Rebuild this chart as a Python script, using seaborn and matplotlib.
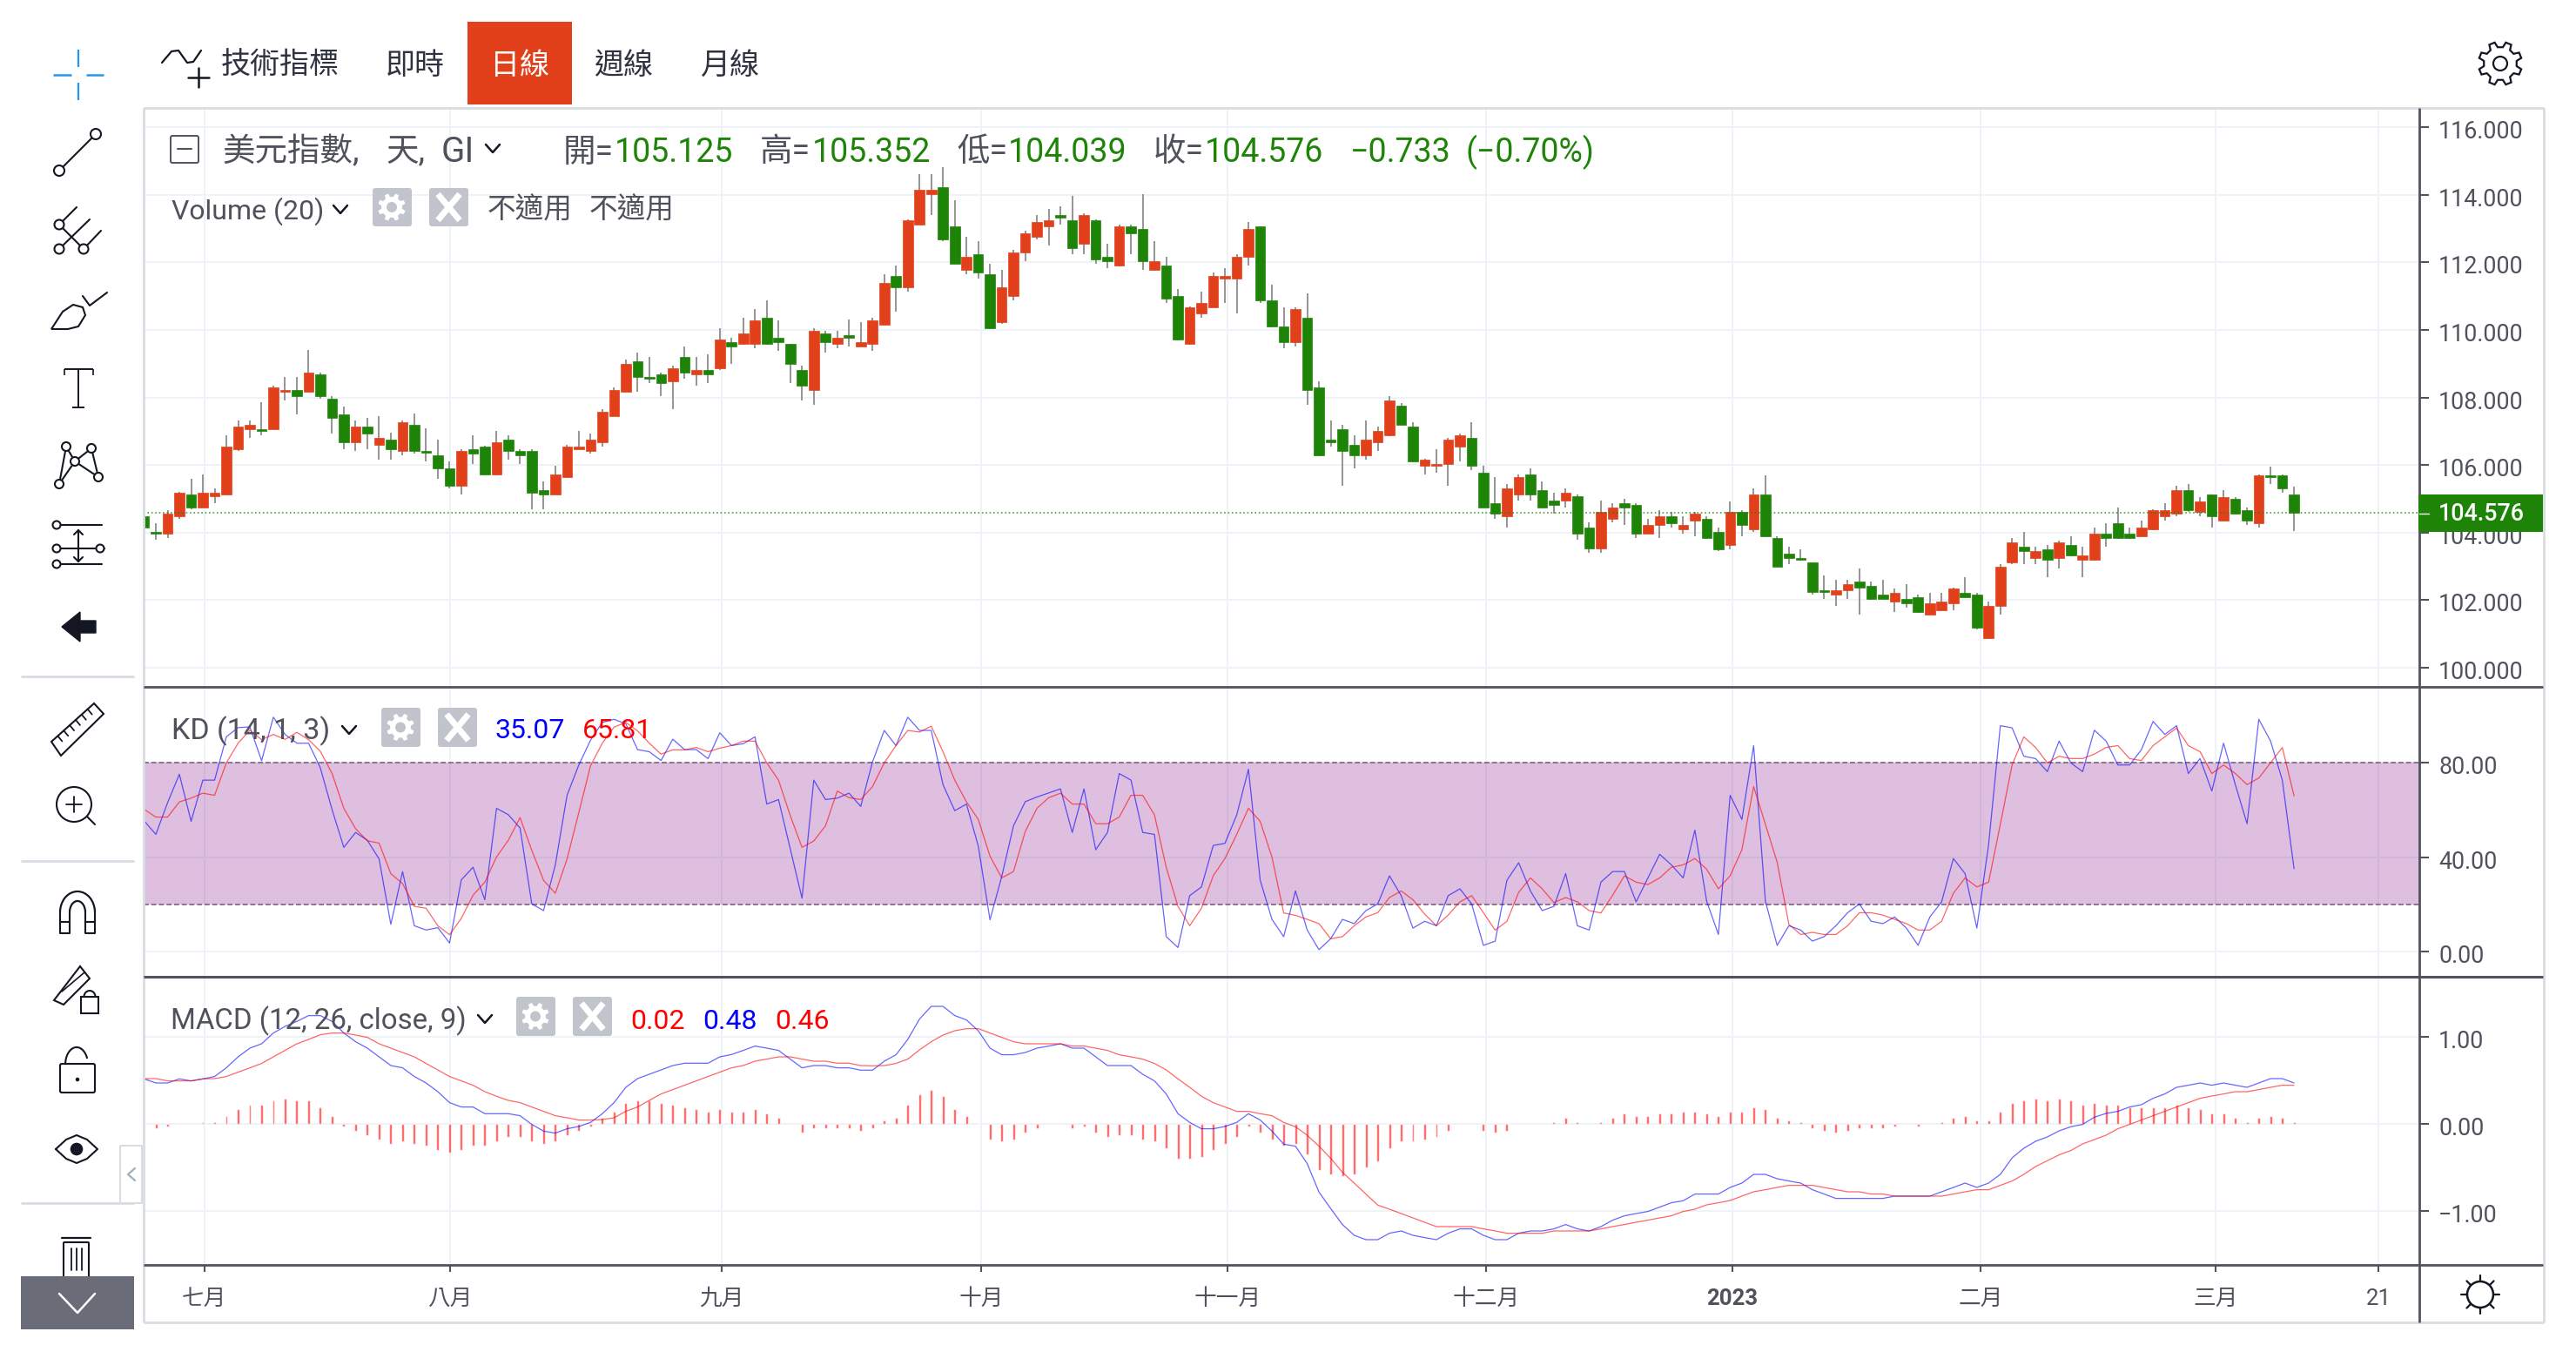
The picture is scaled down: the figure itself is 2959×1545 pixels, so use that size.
import numpy as np
import pandas as pd
import matplotlib
matplotlib.use("Agg")
import matplotlib.pyplot as plt
import seaborn as sns
from matplotlib.patches import Arc, Circle, FancyBboxPatch, Polygon, Rectangle

# daily candles, 184 sessions
opens = [104.48,104.02,103.97,104.48,105.13,104.74,105.07,105.13,106.48,107.07,
107.06,107.07,108.17,108.23,108.17,108.68,107.97,107.51,106.68,107.13,
106.61,106.74,106.42,107.20,106.42,106.28,105.91,105.38,106.48,106.54,
105.71,106.74,106.42,106.42,105.25,105.13,105.64,106.48,106.41,106.67,
107.45,108.17,109.07,108.61,108.68,108.48,109.20,108.68,108.81,108.87,
109.64,109.58,109.58,110.36,109.77,109.58,108.81,108.23,109.90,109.58,
109.84,109.52,109.58,110.16,111.59,111.26,113.13,114.03,114.23,113.06,
111.78,112.23,111.65,110.23,111.00,112.29,112.75,113.06,113.39,113.26,
112.56,113.26,112.16,111.90,113.06,113.00,111.77,111.90,111.00,109.58,
110.49,110.68,111.52,111.52,112.16,113.06,110.87,110.10,109.64,110.36,
108.29,106.74,107.07,106.61,106.28,106.67,106.87,107.77,107.13,105.97,
105.97,106.03,106.54,106.80,105.77,104.87,104.48,105.13,105.71,105.25,
104.94,104.94,105.07,104.16,103.54,104.42,104.87,104.81,103.97,104.22,
104.48,104.09,104.35,104.42,104.02,103.64,104.61,104.09,105.12,103.83,
103.38,103.26,103.12,102.29,102.16,102.29,102.54,102.42,102.16,101.97,
102.03,102.09,101.58,101.71,101.90,102.22,102.16,100.87,101.83,103.12,
103.57,103.26,103.51,103.26,103.63,103.19,103.19,103.96,104.28,103.96,
103.89,104.09,104.48,104.55,105.25,104.61,105.12,104.35,104.99,104.67,
104.29,105.70,105.70,105.125]
highs = [104.50,104.28,104.67,105.21,105.58,105.71,105.32,106.87,107.32,107.33,
107.85,108.36,108.62,108.62,109.40,108.74,108.04,107.72,107.33,107.40,
107.46,106.95,107.33,107.52,107.08,106.74,106.10,106.48,106.87,106.56,
107.00,106.87,106.48,106.48,105.51,105.97,106.61,107.00,106.94,107.66,
108.30,109.13,109.33,109.21,108.74,108.94,109.52,109.20,109.27,110.04,
109.78,110.36,110.61,110.87,110.29,109.59,108.94,110.04,109.97,109.97,
110.30,110.23,110.36,111.65,111.90,113.27,114.62,114.62,114.82,113.85,
112.75,112.62,111.97,111.77,112.36,112.93,113.39,113.58,113.65,113.97,
113.45,113.27,112.55,113.13,113.13,114.03,112.62,112.16,111.20,110.69,
111.13,111.71,111.84,112.23,113.19,113.07,111.33,110.68,110.68,111.07,
108.48,107.33,107.20,106.87,107.33,107.13,108.04,107.84,107.26,106.18,
106.48,106.80,106.93,107.26,105.97,105.64,105.45,105.71,105.91,105.51,
105.19,105.32,105.13,104.31,104.94,104.87,105.00,104.87,104.42,104.67,
104.61,104.48,104.61,104.48,104.15,104.93,104.67,105.32,105.70,103.89,
103.57,103.51,103.13,102.73,102.60,102.60,102.93,102.54,102.60,102.35,
102.48,102.16,102.22,102.22,102.36,102.67,102.22,101.96,103.06,103.83,
104.02,103.57,103.63,103.76,103.89,103.57,104.15,104.28,104.73,104.15,
104.35,104.68,104.86,105.38,105.45,105.05,105.13,105.25,105.05,104.73,
105.71,105.96,105.71,105.352]
lows = [104.10,103.79,103.84,104.41,104.68,104.73,104.87,105.12,106.41,106.80,
106.87,107.06,107.90,107.51,108.16,107.97,106.93,106.48,106.41,106.48,
106.16,106.16,106.28,106.35,106.10,105.58,105.32,105.13,106.03,105.70,
105.70,106.16,106.03,104.68,104.68,105.12,105.63,106.47,106.35,106.54,
107.44,108.16,108.17,108.42,108.04,107.65,108.55,108.36,108.42,108.81,
109.00,109.57,109.45,109.57,109.39,108.42,107.91,107.78,109.33,109.45,
109.52,109.51,109.39,110.15,110.55,111.13,113.12,113.39,112.62,111.96,
111.65,111.53,110.03,110.17,110.87,112.03,112.69,112.49,113.13,112.23,
112.23,111.97,111.84,111.89,112.23,111.77,111.76,110.81,109.70,109.57,
110.36,110.67,110.81,110.49,111.90,110.81,110.09,109.45,109.52,107.78,
106.27,106.54,105.38,105.90,106.16,106.41,106.86,107.19,106.09,105.71,
105.77,105.38,106.10,105.84,104.73,104.42,104.16,104.94,104.94,104.73,
104.55,104.74,103.79,103.41,103.41,104.31,104.22,103.84,103.96,103.83,
104.16,103.96,103.89,103.82,103.45,103.51,103.89,104.03,103.88,102.99,
103.06,103.18,102.16,102.03,101.84,102.03,101.58,102.02,102.02,101.64,
101.77,101.63,101.57,101.70,101.71,102.08,101.13,100.86,101.58,103.06,
103.06,103.06,102.67,102.93,103.31,102.67,103.18,103.57,103.82,103.82,
103.88,104.08,104.35,104.48,104.61,104.48,104.16,104.34,104.54,104.22,
104.16,105.45,105.19,104.039]
closes = [104.15,103.98,104.55,105.19,104.74,105.19,105.19,106.54,107.13,107.20,
107.00,108.29,108.23,108.04,108.74,108.04,107.39,106.68,107.13,106.94,
106.81,106.48,107.26,106.42,106.36,105.91,105.38,106.42,106.35,105.71,
106.68,106.42,106.29,105.19,105.13,105.71,106.54,106.54,106.74,107.57,
108.23,109.00,108.62,108.55,108.42,108.87,108.74,108.81,108.68,109.71,
109.52,109.90,110.29,109.58,109.64,109.00,108.36,109.97,109.64,109.77,
109.77,109.64,110.29,111.39,111.26,113.26,114.16,114.16,112.69,111.97,
112.16,111.71,110.04,111.26,112.29,112.87,113.19,113.26,113.32,112.43,
113.39,112.10,112.03,113.06,112.87,112.03,112.03,110.94,109.71,110.68,
110.81,111.59,111.59,112.16,113.00,110.87,110.10,109.64,110.61,108.23,
106.28,106.68,106.42,106.28,106.74,107.00,107.90,107.20,106.10,106.17,
106.03,106.74,106.87,105.97,104.74,104.55,105.32,105.64,105.13,104.74,
104.81,105.19,103.97,103.54,104.61,104.74,104.74,103.97,104.22,104.48,
104.29,104.22,104.55,103.83,103.51,104.61,104.22,105.12,103.89,103.00,
103.26,103.19,102.23,102.23,102.29,102.48,102.36,102.03,102.03,102.22,
101.90,101.64,101.90,101.96,102.35,102.09,101.19,101.83,103.00,103.70,
103.45,103.45,103.19,103.70,103.32,103.32,103.96,103.83,103.83,103.83,
104.15,104.67,104.67,105.25,104.67,104.92,104.48,105.05,104.55,104.35,
105.70,105.65,105.32,104.576]

# KD panel
k_line = [55.3,49.6,63.0,75.0,55.1,72.5,72.5,90.8,94.7,95.0,
80.7,99.1,91.8,88.1,88.1,77.7,60.0,44.1,50.4,47.1,
39.2,11.6,33.9,11.0,9.2,10.2,3.7,30.4,35.7,22.0,
60.6,57.9,52.3,20.2,17.4,36.7,66.1,78.9,89.4,96.9,
98.2,96.3,85.4,84.5,80.8,89.8,85.4,85.4,81.6,92.5,
87.1,87.9,90.8,62.4,64.3,43.5,22.6,72.5,64.3,64.9,
67.0,61.4,80.2,93.5,87.1,99.1,93.5,93.5,70.6,59.6,
62.4,44.7,13.5,31.8,53.2,63.4,65.4,67.1,68.8,50.4,
68.8,43.1,50.4,75.3,72.5,50.4,49.6,6.4,1.8,23.7,
27.4,44.9,45.8,57.8,77.1,30.2,13.7,6.4,25.7,9.2,
0.9,5.5,13.7,11.9,17.4,20.2,32.1,23.7,10.0,12.9,
11.0,23.7,26.6,20.2,2.7,4.5,30.2,37.6,25.7,17.4,
19.2,33.0,11.0,9.2,29.4,33.9,33.9,21.1,31.2,41.2,
36.7,31.2,51.4,21.4,7.3,66.1,55.9,87.1,21.4,2.7,
11.0,9.2,4.5,6.4,11.0,16.5,20.2,12.9,11.9,14.7,
10.0,2.7,14.7,21.1,39.4,33.0,10.0,45.3,95.5,94.6,
82.6,81.6,76.1,89.0,79.8,76.1,93.6,89.0,78.9,78.9,
85.3,97.3,91.8,95.5,75.3,81.6,67.9,88.1,70.6,54.1,
98.2,89.0,72.5,35.07]
d_line = [60.2,56.9,56.9,63.3,64.9,67.0,66.1,79.8,88.1,93.6,
89.6,91.8,89.7,92.7,89.6,84.7,75.3,60.6,52.0,46.9,
45.9,33.0,28.8,19.2,18.4,11.0,7.2,14.1,23.9,29.4,
40.1,47.1,56.7,42.8,30.2,24.7,39.2,58.8,78.6,88.1,
94.9,96.9,93.3,88.1,83.5,85.3,85.3,86.3,84.5,86.0,
87.1,89.0,89.0,79.8,72.5,57.5,44.1,46.8,53.2,67.9,
65.1,64.3,69.8,79.8,87.1,93.5,92.8,95.3,84.5,72.5,
63.3,55.9,40.4,31.2,33.9,50.8,60.6,65.1,67.0,62.4,
62.4,54.1,54.1,56.9,66.1,66.1,57.8,35.7,19.2,11.0,
18.4,32.1,39.4,49.6,60.6,55.1,40.0,16.4,15.4,13.7,
11.9,5.5,6.4,11.0,14.7,16.5,22.9,25.7,22.0,15.9,
11.0,15.5,21.1,23.7,16.5,9.1,12.9,25.1,31.2,26.6,
20.8,22.9,21.1,17.4,16.4,23.9,32.1,29.4,28.4,31.2,
35.7,36.7,39.4,34.9,26.6,32.1,43.1,69.8,53.9,37.9,
11.6,7.3,8.2,7.3,7.3,11.0,16.5,16.5,15.5,13.7,
11.9,9.2,9.2,12.9,24.7,31.2,27.4,29.4,53.9,78.9,
90.8,86.3,79.8,82.6,81.6,81.6,83.5,86.3,87.1,81.6,
80.8,87.1,90.8,94.5,87.1,84.5,75.3,78.9,75.3,70.6,
73.4,79.8,86.3,65.81]

# MACD panel
macd_line = [.52,.473,.473,.52,.497,.52,.547,.647,.773,.873,
.923,1.047,1.123,1.18,1.247,1.247,1.18,1.047,.947,.873,
.773,.673,.647,.547,.473,.373,.247,.197,.197,.12,
.12,.12,.097,-.003,-.08,-.103,-.053,-.027,.02,.12,
.247,.423,.523,.573,.623,.673,.70,.70,.70,.773,
.80,.847,.897,.873,.847,.747,.647,.673,.673,.647,
.647,.62,.62,.723,.797,.973,1.207,1.353,1.353,1.247,
1.197,1.073,.873,.797,.797,.823,.873,.897,.923,.873,
.873,.773,.673,.673,.673,.573,.497,.347,.12,.02,
-.053,-.053,-.027,.02,.12,.047,-.08,-.23,-.253,-.453,
-.78,-.97,-1.153,-1.277,-1.327,-1.327,-1.253,-1.227,-1.277,-1.303,
-1.327,-1.253,-1.203,-1.203,-1.277,-1.327,-1.327,-1.253,-1.227,-1.227,
-1.203,-1.153,-1.203,-1.227,-1.177,-1.103,-1.053,-1.027,-1.003,-.953,
-.903,-.88,-.803,-.803,-.803,-.727,-.677,-.577,-.577,-.627,
-.653,-.677,-.753,-.803,-.853,-.853,-.853,-.853,-.853,-.827,
-.827,-.827,-.827,-.777,-.727,-.677,-.727,-.677,-.577,-.387,
-.277,-.197,-.147,-.077,-.03,-.003,.08,.123,.147,.197,
.223,.297,.347,.423,.447,.473,.447,.473,.447,.423,
.473,.523,.523,.473]
signal_line = [.523,.523,.497,.497,.497,.52,.523,.547,.597,.647,
.697,.773,.847,.923,.973,1.027,1.047,1.047,1.023,.997,
.923,.873,.823,.773,.697,.623,.547,.497,.447,.373,
.32,.273,.247,.197,.147,.097,.073,.047,.047,.053,
.073,.147,.197,.273,.347,.397,.447,.497,.547,.597,
.647,.673,.723,.747,.773,.773,.747,.723,.723,.70,
.70,.673,.67,.673,.697,.747,.853,.947,1.023,1.073,
1.097,1.097,1.047,.997,.947,.923,.923,.923,.923,.897,
.897,.873,.847,.797,.773,.747,.697,.623,.52,.423,
.32,.247,.197,.147,.147,.12,.097,.02,-.03,-.127,
-.253,-.393,-.553,-.677,-.803,-.93,-.977,-1.027,-1.077,-1.127,
-1.177,-1.177,-1.177,-1.177,-1.203,-1.227,-1.253,-1.253,-1.253,-1.253,
-1.227,-1.227,-1.227,-1.227,-1.203,-1.177,-1.153,-1.127,-1.103,-1.077,
-1.053,-1.003,-.977,-.927,-.903,-.877,-.827,-.777,-.753,-.727,
-.703,-.703,-.703,-.727,-.753,-.777,-.777,-.803,-.803,-.827,
-.827,-.827,-.827,-.827,-.803,-.777,-.753,-.753,-.703,-.653,
-.577,-.487,-.42,-.353,-.303,-.227,-.177,-.127,-.053,-.003,
.047,.097,.147,.197,.247,.297,.323,.347,.373,.373,
.397,.423,.447,.447]
hist_bars = [0,-.05,-.027,0,0,.023,.023,.097,.173,.223,
.223,.273,.297,.273,.273,.197,.097,-.027,-.077,-.127,
-.177,-.227,-.2,-.227,-.25,-.30,-.327,-.30,-.25,-.25,
-.20,-.15,-.15,-.2,-.227,-.2,-.127,-.077,-.027,.073,
.147,.247,.273,.273,.247,.223,.197,.173,.147,.173,
.147,.147,.173,.123,.073,0,-.10,-.05,-.05,-.05,
-.05,-.077,-.05,.047,.073,.223,.347,.397,.323,.173,
.097,0,-.177,-.2,-.177,-.1,-.05,0,0,-.05,
-.027,-.1,-.15,-.127,-.127,-.177,-.2,-.277,-.40,-.40,
-.377,-.30,-.227,-.15,-.027,-.1,-.177,-.25,-.227,-.35,
-.527,-.577,-.60,-.577,-.50,-.427,-.277,-.2,-.2,-.177,
-.15,-.077,0,0,-.077,-.1,-.077,0,0,0,
.023,.073,.023,0,.023,.073,.123,.097,.097,.123,
.123,.147,.147,.123,.097,.147,.147,.197,.173,.073,
.047,.023,-.05,-.077,-.1,-.077,-.05,-.05,-.05,-.027,
0,-.027,0,.023,.073,.097,.047,.047,.147,.247,
.273,.297,.273,.297,.273,.223,.247,.223,.223,.197,
.197,.197,.197,.223,.197,.173,.123,.123,.073,.023,
.073,.097,.073,.023]

month_ticks = [5.12,26.05,49.17,71.25,92.2,114.2,135.2,156.3,176.3,190.2]
month_labels = ["七月","八月","九月","十月","十一月","十二月","2023","二月","三月","21"]
price_ticks = [100,102,104,106,108,110,112,114,116]
kd_ticks = [0,40,80]
macd_ticks = [-1,0,1]
macd_tick_labels = ["−1.00","0.00","1.00"]

W, H = 2959, 1545
RED = "#e2401a"
GREEN = "#1e8407"
AXIS = "#50535e"
TEXT = "#4f525c"
GRID = "#edf3f8"
ICON = "#131722"
BTN = "#c1c4cd"

sns.set_theme(style="white")
plt.rcParams["font.family"] = ["Roboto", "Noto Sans CJK TC", "DejaVu Sans"]

df = pd.DataFrame({"i": np.arange(len(closes)), "o": opens, "h": highs, "l": lows, "c": closes,
                   "k": k_line, "d": d_line, "macd": macd_line, "signal": signal_line, "hist": hist_bars})

fig = plt.figure(figsize=(W / 100, H / 100), dpi=100, facecolor="white")


def pane(top, bottom):
    return fig.add_axes([165 / W, 1 - bottom / H, (2779 - 165) / W, (bottom - top) / H])


ax_price = pane(124, 789)
ax_kd = pane(789, 1122)
ax_macd = pane(1122, 1453)

# candles
up = df[df.c >= df.o]
down = df[df.c < df.o]
ax_price.vlines(df.i, df.l, df.h, color="#8c8c8c", lw=1.3, zorder=2)
ax_price.bar(up.i, up.c - up.o, bottom=up.o, width=0.86, color=RED, edgecolor=RED, lw=0.5, zorder=3)
ax_price.bar(down.i, down.c - down.o, bottom=down.o, width=0.86, color=GREEN, edgecolor=GREEN, lw=0.5, zorder=3)
ax_price.axhline(closes[-1], color=GREEN, ls=":", lw=1.2, alpha=0.8, zorder=4)
ax_price.set_ylim(99.433, 116.572)
ax_price.set_yticks(price_ticks, [f"{t:.3f}" for t in price_ticks])

# KD
ax_kd.axhspan(20, 80, facecolor="#800080", alpha=0.25, lw=0, zorder=2)
for level in (20, 80):
    ax_kd.axhline(level, color="#8b7390", ls=(0, (3, 1.5)), lw=1.4, zorder=2)
sns.lineplot(data=df, x="i", y="k", color="#0000ff", lw=0.9, alpha=0.6, errorbar=None, ax=ax_kd, zorder=3)
sns.lineplot(data=df, x="i", y="d", color="#ff0000", lw=0.9, alpha=0.6, errorbar=None, ax=ax_kd, zorder=3)
ax_kd.set_ylim(-10.55, 111.9)
ax_kd.set_yticks(kd_ticks, [f"{t:.2f}" for t in kd_ticks])

# MACD
sns.barplot(data=df, x="i", y="hist", native_scale=True, width=0.22, color="#ff0000", alpha=0.65,
            saturation=1, errorbar=None, ax=ax_macd, zorder=3)
sns.lineplot(data=df, x="i", y="macd", color="#0000ff", lw=0.9, alpha=0.6, errorbar=None, ax=ax_macd, zorder=4)
sns.lineplot(data=df, x="i", y="signal", color="#ff0000", lw=0.9, alpha=0.6, errorbar=None, ax=ax_macd, zorder=4)
ax_macd.set_ylim(-1.617, 1.693)
ax_macd.set_yticks(macd_ticks, macd_tick_labels)

for ax in (ax_price, ax_kd, ax_macd):
    ax.set_xlim(-0.04, 193.66)
    ax.set_xlabel("")
    ax.set_ylabel("")
    ax.set_xticks(month_ticks)
    ax.set_axisbelow(True)
    ax.grid(True, color=GRID, lw=1.4)
    for side in ("top", "left", "bottom", "right"):
        ax.spines[side].set_visible(False)
    ax.yaxis.tick_right()
    ax.tick_params(axis="y", right=True, length=8, width=1.5, color=AXIS, pad=8, labelsize=19.4, labelcolor=TEXT)
    ax.tick_params(axis="x", bottom=False, labelbottom=False)
    ax.patch.set_alpha(0)
    for tl in ax.get_yticklabels():
        tl.set_y(tl.get_position()[1])
        tl.set_transform(tl.get_transform() + matplotlib.transforms.ScaledTranslation(0, -2.5 / 100, fig.dpi_scale_trans))

ax_macd.set_xticks(month_ticks, month_labels)
ax_macd.tick_params(axis="x", bottom=True, labelbottom=True, length=6, width=1.5, color=AXIS, pad=13.5,
                    labelsize=18.5, labelcolor=TEXT)
ax_macd.get_xticklabels()[6].set_fontweight("bold")

# page furniture in pixel space
ov = fig.add_axes([0, 0, 1, 1], zorder=10)
ov.set_xlim(0, W)
ov.set_ylim(H, 0)
ov.axis("off")
ov.patch.set_alpha(0)


def label(x, y, s, size=23, color=TEXT, ha="left", **kw):
    ov.text(x, y, s, fontsize=size, color=color, ha=ha, va="center", **kw)


def seg(xs, ys, color=ICON, lw=1.5, **kw):
    ov.plot(xs, ys, color=color, lw=lw, solid_capstyle=kw.pop("cap", "round"), **kw)


def ring(x, y, r, lw=1.5, color=ICON, face="white", z=5):
    ov.add_patch(Circle((x, y), r, fill=True, facecolor=face, edgecolor=color, lw=lw, zorder=z))


def gear(cx, cy, r1, r2, edge, face, lw=1.5, teeth=8):
    ang, rad = [], []
    step = 2 * np.pi / teeth
    for t in range(teeth):
        a = t * step + step / 2
        ang += [a - step * 0.3, a - step * 0.17, a + step * 0.17, a + step * 0.3]
        rad += [r2, r1, r1, r2]
    pts = np.c_[cx + np.array(rad) * np.cos(ang), cy + np.array(rad) * np.sin(ang)]
    ov.add_patch(Polygon(pts, closed=True, facecolor=face, edgecolor=edge, lw=lw, zorder=6, joinstyle="miter"))


def buttons(gx, xx, top, bottom):
    for x0 in (gx, xx):
        ov.add_patch(FancyBboxPatch((x0 + 3, top + 3), 39, bottom - top - 6, boxstyle="round,pad=3",
                                    facecolor=BTN, edgecolor="none", zorder=5))
    cy = (top + bottom) / 2
    gear(gx + 22, cy, 16, 12, "none", "white", lw=0)
    ov.add_patch(Circle((gx + 22, cy), 6, facecolor=BTN, edgecolor="none", zorder=7))
    seg([xx + 10, xx + 35], [cy - 15, cy + 15], color="white", lw=5, zorder=6, cap="butt")
    seg([xx + 35, xx + 10], [cy - 15, cy + 15], color="white", lw=5, zorder=6, cap="butt")


def chevron(x, y):
    seg([x - 8, x, x + 8], [y - 4, y + 5, y - 4], lw=1.8)


# frame and pane separators
for x0, y0, x1, y1, c, w in [(165, 124, 2922, 124, "#d8dde1", 2), (165, 124, 165, 1519, "#d8dde1", 2),
                             (2922, 124, 2922, 1519, "#d8dde1", 2), (165, 1519, 2922, 1519, "#d8dde1", 2),
                             (165, 789, 2921, 789, AXIS, 2), (165, 1122, 2921, 1122, AXIS, 2.2),
                             (165, 1453, 2921, 1453, AXIS, 2), (2779, 124, 2779, 1519, AXIS, 2)]:
    seg([x0, x1], [y0, y1], color=c, lw=w, cap="butt")

# last price tag over the axis
ov.add_patch(Rectangle((2778, 568), 143, 43, facecolor=GREEN, edgecolor="none", zorder=5))
seg([2779, 2790], [590, 590], color="white", lw=1, zorder=6)
ov.text(2801, 591, "104.576", fontsize=19.4, color="white", va="center", fontweight="medium", zorder=6)

# top bar
ov.add_patch(Rectangle((537, 25), 120, 95, facecolor=RED, edgecolor="none"))
label(322, 76, "技術指標", 24.5, "#2f3240", "center")
label(477, 76, "即時", 24.5, "#2f3240", "center")
label(597, 76, "日線", 24.5, "white", "center")
label(716, 76, "週線", 24.5, "#2f3240", "center")
label(838, 76, "月線", 24.5, "#2f3240", "center")
seg([186, 197, 205, 215, 222, 231], [72, 59, 58, 72, 71, 58], lw=1.6)
seg([228, 228], [78, 100], lw=1.8)
seg([216, 240], [89, 89], lw=1.8)
gear(2872, 73, 25, 19, ICON, "white", lw=1.6)
ring(2872, 73, 8, lw=1.6, z=7)

# price legend
ov.add_patch(FancyBboxPatch((198, 158), 28, 27, boxstyle="round,pad=2", facecolor="white", edgecolor=TEXT, lw=1.4))
seg([204, 220], [171, 171], color=TEXT, lw=1.5)
label(255, 175, "美元指數,", 27)
label(443, 175, "天,", 27)
label(507, 175, "GI", 29)
chevron(566, 170)
label(647, 175, "開=", 27)
label(706, 175, "105.125", 27, GREEN)
label(873, 175, "高=", 27)
label(933, 175, "105.352", 27, GREEN)
label(1099, 175, "低=", 27)
label(1158, 175, "104.039", 27, GREEN)
label(1325, 175, "收=", 27)
label(1384, 175, "104.576", 27, GREEN)
label(1551, 175, "−0.733", 27, GREEN)
label(1684, 175, "(−0.70%)", 27, GREEN)

label(197, 243, "Volume (20)", 23)
chevron(391, 240)
buttons(428, 493, 216, 260)
label(560, 242, "不適用", 23.5)
label(677, 242, "不適用", 23.5)

label(197, 840, "KD (14, 1, 3)", 24.5)
chevron(401, 838)
buttons(438, 503, 813, 858)
label(569, 840, "35.07", 23, "#0000ff")
label(669, 840, "65.81", 23, "#ff0000")

label(196, 1173, "MACD (12, 26, close, 9)", 23.8)
chevron(557, 1170)
buttons(593, 658, 1145, 1190)
label(724, 1173, "0.02", 23, "#ff0000")
label(807, 1173, "0.48", 23, "#0000ff")
label(890, 1173, "0.46", 23, "#ff0000")

# sun button, bottom right
ring(2849, 1487, 15, lw=1.8)
for a in np.arange(0, 2 * np.pi, np.pi / 4):
    seg([2849 + 15 * np.cos(a), 2849 + 22 * np.cos(a)], [1487 + 15 * np.sin(a), 1487 + 22 * np.sin(a)], lw=1.6)

# left toolbar
BLUE = "#2196f3"
seg([90, 90], [57, 77], color=BLUE, lw=1.6, cap="butt")
seg([90, 90], [95, 115], color=BLUE, lw=1.6, cap="butt")
seg([61, 82], [86, 86], color=BLUE, lw=1.8, cap="butt")
seg([99, 119], [86, 86], color=BLUE, lw=1.8, cap="butt")
seg([68, 110], [196, 154])
ring(68, 196, 6)
ring(110, 154, 6)
seg([68, 88], [258, 238])
seg([68, 103], [286, 252])
seg([68, 96], [258, 286])
seg([96, 116], [286, 265])
for px, py in [(68, 258), (68, 286), (96, 286)]:
    ring(px, py, 5.5)
ov.add_patch(Polygon([(59, 378), (72, 358), (84, 350), (95, 353), (98, 362), (90, 375), (78, 378)],
                     closed=True, facecolor="white", edgecolor=ICON, lw=1.5))
seg([95, 103, 123], [340, 351, 336])
# T tool
seg([90, 90], [423, 468], lw=1.4, cap="butt")
seg([74, 107], [424, 424], lw=1.4, cap="butt")
seg([83, 97], [468, 468], lw=1.4, cap="butt")
seg([74, 74], [424, 431], lw=1.2, cap="butt")
seg([107, 107], [424, 431], lw=1.2, cap="butt")
pattern = [(76, 513), (105, 515), (86, 530), (68, 556), (113, 548)]
for a, b in [(0, 2), (1, 2), (2, 3), (2, 4), (0, 3), (1, 4)]:
    seg([pattern[a][0], pattern[b][0]], [pattern[a][1], pattern[b][1]])
for px, py in pattern:
    ring(px, py, 5)
seg([63, 117], [603, 603])
seg([63, 120], [630, 630])
seg([63, 117], [648, 648])
seg([90, 90], [609, 645])
seg([85, 90, 95], [614, 609, 614])
seg([85, 90, 95], [640, 645, 640])
for px, py in [(65, 603), (65, 630), (115, 630), (65, 648)]:
    ring(px, py, 4.5)
ov.add_patch(Polygon([(71, 720), (92, 703), (92, 713), (110, 713), (110, 727), (92, 727), (92, 737)],
                     closed=True, facecolor=ICON, edgecolor=ICON, lw=1))
for yy in (777, 989, 1382):
    seg([24, 154], [yy, yy], color="#d9dce3", lw=2, cap="butt")
ov.add_patch(Polygon([(59, 852), (108, 808), (119, 820), (70, 868)], closed=True, facecolor="white",
                     edgecolor=ICON, lw=1.5))
for t in np.linspace(0.15, 0.85, 6):
    bx, by = 59 + 49 * t, 852 - 44 * t
    seg([bx, bx + 5], [by, by + 6], lw=1.3)
ring(85, 924, 20)
seg([100, 109], [938, 947])
seg([76, 94], [924, 924], lw=1.3, zorder=6)
seg([85, 85], [915, 933], lw=1.3, zorder=6)
ov.add_patch(Arc((89, 1048), 40, 48, theta1=180, theta2=360, edgecolor=ICON, lw=1.6))
ov.add_patch(Arc((89, 1048), 18, 26, theta1=180, theta2=360, edgecolor=ICON, lw=1.6))
seg([69, 69, 80, 80], [1048, 1072, 1072, 1048])
seg([98, 98, 109, 109], [1048, 1072, 1072, 1048])
seg([69, 80], [1059, 1059])
seg([98, 109], [1059, 1059])
ov.add_patch(Polygon([(62, 1149), (92, 1110), (103, 1124), (73, 1154)], closed=True, facecolor="white",
                     edgecolor=ICON, lw=1.5))
seg([71, 97], [1139, 1117], lw=1.2)
ov.add_patch(Rectangle((93, 1145), 20, 19, facecolor="white", edgecolor=ICON, lw=1.5))
ov.add_patch(Arc((103, 1145), 13, 14, theta1=180, theta2=360, edgecolor=ICON, lw=1.5))
ov.add_patch(FancyBboxPatch((71, 1224), 36, 29, boxstyle="round,pad=2", facecolor="white", edgecolor=ICON, lw=1.5))
ov.add_patch(Arc((88, 1223), 26, 40, theta1=180, theta2=330, edgecolor=ICON, lw=1.5))
ov.add_patch(Circle((89, 1240), 3, facecolor=ICON))
seg([64, 76, 88, 100, 112, 100, 88, 76, 64], [1320, 1309, 1304, 1309, 1320, 1331, 1336, 1331, 1320])
ov.add_patch(Circle((88, 1320), 8, facecolor=ICON))
ov.add_patch(FancyBboxPatch((139, 1317), 23, 64, boxstyle="round,pad=1", facecolor="white", edgecolor="#d8dde3", lw=1.5))
seg([155, 147, 155], [1342, 1349, 1356], color="#9db0bd", lw=1.6)
seg([71, 104], [1422, 1422], lw=1.6)
ov.add_patch(FancyBboxPatch((74, 1428), 27, 40, boxstyle="round,pad=1", facecolor="white", edgecolor=ICON, lw=1.5))
for tx in (82, 88, 94):
    seg([tx, tx], [1434, 1459], lw=1.3)
ov.add_patch(Rectangle((24, 1466), 130, 61, facecolor="#6a6d78", edgecolor="none", zorder=6))
seg([68, 89, 109], [1486, 1508, 1486], color="white", lw=1.8, zorder=7)

fig.savefig("out.png", dpi=100, facecolor="white")
